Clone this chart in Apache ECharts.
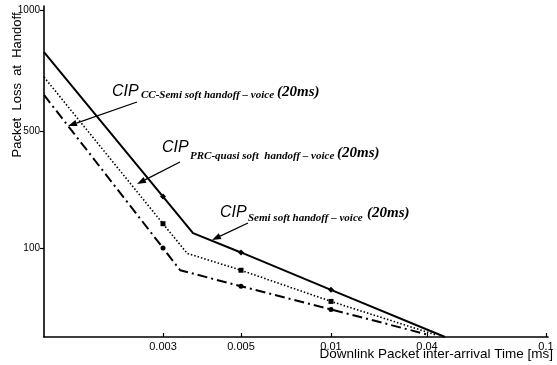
<!DOCTYPE html>
<html><head><meta charset="utf-8">
<script src="https://cdn.jsdelivr.net/npm/echarts@6/dist/echarts.min.js"></script>
<style>html,body{margin:0;padding:0;background:#fff}#c{width:557px;height:365px}</style>
</head><body><div id="c"></div>
<script>
// ---- data ----
const xTickValues = [0.003, 0.005, 0.01, 0.04, 0.1];
const xTickLabels = ['0.003', '0.005', '0.01', '0.04', '0.1'];
const yTickValues = [100, 500, 1000];
const yTickLabels = ['100', '500', '1000'];

const semiName = 'CIP Semi soft handoff – voice (20ms)';
const semiX = [0.001, 0.003, 0.00377, 0.005, 0.01, 0.0491];
const semiY = [826, 276, 151, 95, 53, 0];

const prcName = 'CIP PRC-quasi soft handoff – voice (20ms)';
const prcX = [0.001, 0.003, 0.00362, 0.005, 0.01, 0.045];
const prcY = [723, 183, 94, 75, 40, 2];

const ccName = 'CIP CC-Semi soft handoff – voice (20ms)';
const ccX = [0.001, 0.003, 0.00344, 0.005, 0.01, 0.0415];
const ccY = [649, 100, 75, 57, 31, 2];

// ---- the hand-drawn (non-uniform) axis scales of the original ----
const xScale = { domain: [0.001, 0.003, 0.005, 0.01, 0.04, 0.1], range: [0, 119, 197, 287, 383, 502] };
const yScale = { domain: [0, 100, 500, 1000], range: [0, 89, 206, 327] };
function warp(v, s) {
  const d = s.domain, r = s.range;
  for (let i = 1; i < d.length; i++) {
    if (v <= d[i] || i === d.length - 1) {
      const t = (v - d[i - 1]) / (d[i] - d[i - 1]);
      return r[i - 1] + t * (r[i] - r[i - 1]);
    }
  }
}
const xTickPos = xTickValues.map(v => warp(v, xScale));
const yTickPos = yTickValues.map(v => warp(v, yScale));
function labelFor(pos, posArr, labels) {
  for (let i = 0; i < posArr.length; i++) if (Math.abs(posArr[i] - pos) < 0.01) return labels[i];
  return '';
}
function build(xs, ys, sym) {
  return xs.map((x, i) => {
    const marked = xTickValues.slice(0, 3).some(t => Math.abs(t - x) < 1e-9);
    return { value: [warp(x, xScale), warp(ys[i], yScale)], symbol: marked ? sym : 'none' };
  });
}

const chart = echarts.init(document.getElementById('c'), null, { renderer: 'canvas' });

function arrow(x1, y1, x2, y2) {
  const a = Math.atan2(y2 - y1, x2 - x1), L = 9, W = 3.2;
  const bx = x2 - L * Math.cos(a), by = y2 - L * Math.sin(a);
  const px = -Math.sin(a) * W, py = Math.cos(a) * W;
  return [
    { type: 'line', shape: { x1, y1, x2: bx, y2: by }, style: { stroke: '#000', lineWidth: 1.3 } },
    { type: 'polygon', shape: { points: [[x2, y2], [bx + px, by + py], [bx - px, by - py]] }, style: { fill: '#000' } }
  ];
}
const cipFont = 'italic 16px "Liberation Sans", Arial, sans-serif';
const subFont = 'italic bold 11px "Liberation Serif", "Times New Roman", serif';
const msFont = 'italic bold 15px "Liberation Serif", "Times New Roman", serif';
function label(x, yCip, sub, xSub, ySub, xMs, yMs) {
  return [
    { type: 'text', style: { x, y: yCip, text: 'CIP', font: cipFont, fill: '#000', textAlign: 'left', textVerticalAlign: 'bottom' } },
    { type: 'text', style: { x: xSub, y: ySub, text: sub, font: subFont, fill: '#000', textAlign: 'left', textVerticalAlign: 'bottom' } },
    { type: 'text', style: { x: xMs, y: yMs, text: '(20ms)', font: msFont, fill: '#000', textAlign: 'left', textVerticalAlign: 'bottom' } }
  ];
}

const option = {
  backgroundColor: '#fff',
  animation: false,
  grid: { left: 44, right: 9, top: 6, bottom: 28 },
  xAxis: {
    type: 'value', min: 0, max: 504,
    axisLine: { lineStyle: { color: '#000', width: 1.6 } },
    axisTick: { show: true, inside: true, length: 4, customValues: xTickPos, lineStyle: { color: '#000', width: 1.2 } },
    axisLabel: { customValues: xTickPos, margin: 4, color: '#000', fontSize: 11, fontFamily: '"Liberation Sans", Arial, sans-serif',
      formatter: v => labelFor(v, xTickPos, xTickLabels) },
    splitLine: { show: false }
  },
  yAxis: {
    type: 'value', min: 0, max: 331,
    axisLine: { show: true, lineStyle: { color: '#000', width: 1.6 } },
    axisTick: { show: true, inside: false, length: 4, customValues: yTickPos, lineStyle: { color: '#000', width: 1.2 } },
    axisLabel: { customValues: yTickPos, margin: 4, color: '#000', fontSize: 10, fontFamily: '"Liberation Sans", Arial, sans-serif',
      formatter: v => labelFor(v, yTickPos, yTickLabels) },
    splitLine: { show: false }
  },
  series: [
    { name: semiName, type: 'line', data: build(semiX, semiY, 'diamond'), symbolSize: 6, showAllSymbol: true,
      lineStyle: { color: '#000', width: 2 }, itemStyle: { color: '#000' } },
    { name: prcName, type: 'line', data: build(prcX, prcY, 'rect'), symbolSize: 5, showAllSymbol: true,
      lineStyle: { color: '#000', width: 1.6, type: [1.5, 2] }, itemStyle: { color: '#000' } },
    { name: ccName, type: 'line', data: build(ccX, ccY, 'circle'), symbolSize: 5, showAllSymbol: true,
      lineStyle: { color: '#000', width: 2, type: [10, 4, 2, 4] }, itemStyle: { color: '#000' } }
  ],
  graphic: [
    { type: 'text', rotation: Math.PI / 2, x: 17, y: 85,
      style: { text: 'Packet  Loss  at  Handoff', font: '13px "Liberation Sans", Arial, sans-serif', fill: '#000', textAlign: 'center', textVerticalAlign: 'middle' } },
    { type: 'text', style: { x: 553, y: 354, text: 'Downlink Packet inter-arrival Time [ms]', font: '13.5px "Liberation Sans", Arial, sans-serif', fill: '#000', textAlign: 'right', textVerticalAlign: 'middle' } },
    ...label(112, 100, 'CC-Semi soft handoff – voice', 141, 101, 277, 100),
    ...label(162, 156, 'PRC-quasi soft  handoff – voice', 190, 162, 337, 161),
    ...label(220, 221, 'Semi soft handoff – voice', 248, 224, 367, 221),
    ...arrow(137, 102, 68, 126),
    ...arrow(180, 162, 137, 184),
    ...arrow(248, 223, 212, 240)
  ]
};
chart.setOption(option);
</script>
</body></html>
